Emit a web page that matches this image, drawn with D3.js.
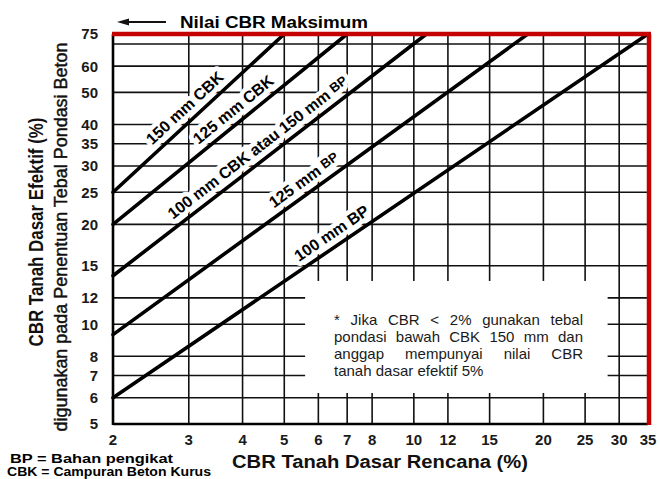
<!DOCTYPE html>
<html><head><meta charset="utf-8">
<script src="https://cdn.jsdelivr.net/npm/d3@7"></script>
<style>body{margin:0;background:#fff} svg{display:block}</style>
</head><body>
<svg id="c" width="660" height="479"></svg>
<script>
// ---- data ----
const xTicks = [2,3,4,5,6,7,8,10,12,15,20,25,30,35];
const yTicks = [5,6,7,8,10,12,15,20,25,30,35,40,50,60,75];
const xGrid = [3,4,5,6,7,8,10,12,15,20,25,30];
const yGrid = [6,7,8,10,12,15,20,25,30,35,40,50,60,70];
const lineNames = ["150 mm CBK","125 mm CBK","100 mm CBK atau 150 mm BP","125 mm BP","100 mm BP"];
const lineStartCBR = [2,2,2,2,2];
const lineStartEff = [25,20,14,9.3,6];
const lineEndCBR = [5,7,10.7,18.4,35];
const lineEndEff = [75,75,75,75,75];
const labelCBR = [3.08,3.98,4.53,5.79,6.70];
const noteLines = ["* Jika CBR < 2% gunakan tebal","pondasi bawah CBK 150 mm dan","anggap mempunyai nilai CBR","tanah dasar efektif 5%"];
const noteBox = {x0:5.59, x1:28.2, y0:6.2, y1:13.5};

const svg = d3.select("#c");
const RED = "#c40000";
const FONT = "'Liberation Sans', Arial, sans-serif";
const x = d3.scaleLog().domain([2,35]).range([113,648]);
const y = d3.scaleLog().domain([5,75]).range([424,34]);

// grid
const g = svg.append("g");
g.selectAll("line.v").data(xGrid).join("line")
  .attr("x1",d=>x(d)).attr("x2",d=>x(d)).attr("y1",y(75)).attr("y2",y(5))
  .attr("stroke","#111").attr("stroke-width",1.6);
g.selectAll("line.h").data(yGrid).join("line")
  .attr("x1",x(2)).attr("x2",x(35)).attr("y1",d=>y(d)).attr("y2",d=>y(d))
  .attr("stroke","#111").attr("stroke-width",1.6);

// note box (white area)
svg.append("rect").attr("x",x(noteBox.x0)).attr("y",y(noteBox.y1))
  .attr("width",x(noteBox.x1)-x(noteBox.x0)).attr("height",y(noteBox.y0)-y(noteBox.y1))
  .attr("fill","#fff");

// axes (thick)
svg.append("line").attr("x1",x(2)).attr("x2",x(2)).attr("y1",y(75)).attr("y2",y(5)+1)
  .attr("stroke","#000").attr("stroke-width",2.6);
svg.append("line").attr("x1",x(2)).attr("x2",x(35)).attr("y1",y(5)).attr("y2",y(5))
  .attr("stroke","#000").attr("stroke-width",2.6);

// tick labels
svg.selectAll("text.yt").data(yTicks).join("text")
  .attr("x",98).attr("y",d=>y(d)).attr("dy","0.36em").attr("text-anchor","end")
  .attr("font-family",FONT).attr("font-weight","bold").attr("font-size",15).attr("fill","#1a1a1a")
  .text(d=>d);
svg.selectAll("text.xt").data(xTicks).join("text")
  .attr("x",d=>x(d)).attr("y",445).attr("text-anchor","middle")
  .attr("font-family",FONT).attr("font-weight","bold").attr("font-size",15).attr("fill","#1a1a1a")
  .text(d=>d);

// line labels with white halo
const lines = lineNames.map((n,i)=>({name:n, p0:[x(lineStartCBR[i]),y(lineStartEff[i])], p1:[x(lineEndCBR[i]),y(lineEndEff[i])], lc:labelCBR[i]}));
lines.forEach((L,i)=>{
  const dx=L.p1[0]-L.p0[0], dy=L.p1[1]-L.p0[1], len=Math.hypot(dx,dy);
  const ang=Math.atan2(dy,dx)*180/Math.PI;
  const px=x(L.lc), t=(px-L.p0[0])/dx, py=L.p0[1]+t*dy;
  const nx=dy/len, ny=-dx/len; // normal pointing up-left
  const off=13.5;
  const cx=px+nx*off, cy=py+ny*off;
  const txt=svg.append("text").attr("transform",`translate(${cx},${cy}) rotate(${ang})`)
    .attr("text-anchor","middle").attr("dy","0.36em")
    .attr("font-family",FONT).attr("font-weight","bold").attr("font-size",16)
    .attr("fill","#000").attr("stroke","#fff").attr("stroke-width",9).attr("paint-order","stroke")
    .attr("stroke-linejoin","round");
  const m=L.name.match(/^(.*?)(BP)$/);
  if(m && i<4){ txt.append("tspan").text(m[1]); txt.append("tspan").attr("font-size",13).attr("dy","-0.15em").text(m[2]); }
  else txt.text(L.name);
});

// diagonal lines
svg.selectAll("line.d").data(lines).join("line")
  .attr("x1",d=>d.p0[0]).attr("y1",d=>d.p0[1]).attr("x2",d=>d.p1[0]).attr("y2",d=>d.p1[1])
  .attr("stroke","#000").attr("stroke-width",3.6).attr("stroke-linecap","round");

// red max lines
svg.append("line").attr("x1",x(2)-1).attr("x2",x(35)+3).attr("y1",y(75)).attr("y2",y(75))
  .attr("stroke",RED).attr("stroke-width",4.5);
svg.append("line").attr("x1",x(35)+1).attr("x2",x(35)+1).attr("y1",y(75)).attr("y2",y(5)+1)
  .attr("stroke",RED).attr("stroke-width",4.5);

// title with arrow
svg.append("line").attr("x1",124).attr("x2",166).attr("y1",22).attr("y2",22).attr("stroke","#111").attr("stroke-width",2);
svg.append("path").attr("d","M117,22 L129,18.5 L129,25.5 Z").attr("fill","#111");
svg.append("text").attr("x",180).attr("y",27.5).attr("font-family",FONT)
  .attr("font-weight","bold").attr("font-size",16).attr("textLength",188).attr("lengthAdjust","spacingAndGlyphs")
  .text("Nilai CBR Maksimum");

// axis titles
svg.append("text").attr("transform","translate(43,232) rotate(-90)").attr("text-anchor","middle")
  .attr("font-family",FONT).attr("font-weight","bold").attr("font-size",20)
  .attr("textLength",229).attr("lengthAdjust","spacingAndGlyphs").attr("fill","#111")
  .text("CBR Tanah Dasar Efektif (%)");
svg.append("text").attr("transform","translate(67,237) rotate(-90)").attr("text-anchor","middle")
  .attr("font-family",FONT).attr("font-size",18.5)
  .attr("stroke","#111").attr("stroke-width",0.45)
  .attr("textLength",389).attr("lengthAdjust","spacingAndGlyphs").attr("fill","#111")
  .text("digunakan pada Penentuan Tebal Pondasi Beton");
svg.append("text").attr("x",380).attr("y",468).attr("text-anchor","middle")
  .attr("font-family",FONT).attr("font-weight","bold").attr("font-size",18)
  .attr("textLength",296).attr("lengthAdjust","spacingAndGlyphs").attr("fill","#111")
  .text("CBR Tanah Dasar Rencana (%)");

// legend
svg.append("text").attr("x",10).attr("y",463).attr("font-family",FONT)
  .attr("font-weight","bold").attr("font-size",13).attr("textLength",163).attr("lengthAdjust","spacingAndGlyphs")
  .text("BP = Bahan pengikat");
svg.append("text").attr("x",7).attr("y",476).attr("font-family",FONT)
  .attr("font-weight","bold").attr("font-size",12).attr("textLength",204).attr("lengthAdjust","spacingAndGlyphs")
  .text("CBK = Campuran Beton Kurus");

// note (justified)
const nx0=334, nx1=583, nb=325, nlh=17;
noteLines.forEach((ln,i)=>{
  const words=ln.split(" ");
  const grp=svg.append("g");
  const ws=words.map(w=>grp.append("text").attr("y",nb+i*nlh)
    .attr("font-family",FONT).attr("font-size",15).attr("fill","#1a1a1a").text(w));
  const widths=ws.map(t=>t.node().getComputedTextLength());
  const total=d3.sum(widths);
  const last=i===noteLines.length-1;
  const gap= last? 4.2 : (nx1-nx0-total)/(words.length-1);
  let cx=nx0;
  ws.forEach((t,k)=>{ t.attr("x",cx); cx+=widths[k]+gap; });
});
</script>
</body></html>
